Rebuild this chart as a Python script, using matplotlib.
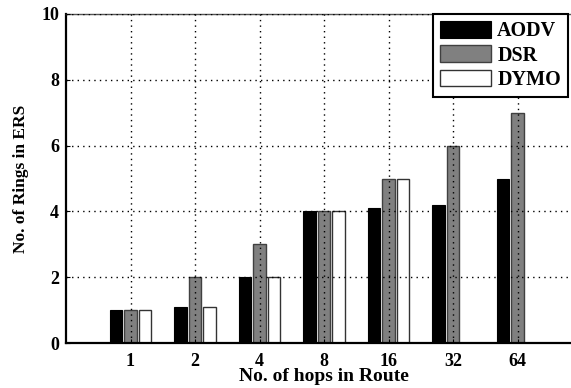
import numpy as np
import matplotlib
matplotlib.use('Agg')
from matplotlib import pyplot as plt

# data
hops = ['1', '2', '4', '8', '16', '32', '64']
aodv = [1, 1.1, 2, 4, 4.1, 4.2, 5]
dsr = [1, 2, 3, 4, 5, 6, 7]
dymo = [1, 1.1, 2, 4, 5, 0, 0]

plt.rcParams['font.family'] = ['Liberation Serif', 'DejaVu Serif']
plt.rcParams['font.weight'] = 'bold'

fig = plt.figure(figsize=(5.71, 3.88), dpi=100)
ax = fig.add_axes([66/571, 1-343/388, (582-66)/571, (343-14)/388])

x = np.arange(1, len(hops)+1)
w = 0.19
off = 0.225
ax.bar(x-off, aodv, w, color='black', edgecolor='black', linewidth=0.8, label='AODV')
ax.bar(x, dsr, w, color='#808080', edgecolor='#404040', linewidth=1.0, label='DSR')
ax.bar(x+off, dymo, w, color='white', edgecolor='#333333', linewidth=1.0, label='DYMO')

ax.set_xlim(0, 8)
ax.set_ylim(0, 10)
ax.set_xticks(x)
ax.set_xticklabels(hops)
ax.set_yticks(range(0, 11, 2))
ax.tick_params(direction='in', length=3, labelsize=13)
ax.tick_params(axis='x', pad=7)
ax.tick_params(axis='y', pad=5)
for lab in ax.get_xticklabels() + ax.get_yticklabels():
    lab.set_fontweight('bold')

ax.set_axisbelow(False)
ax.grid(True, color='black', linestyle=(0, (1, 3)), linewidth=1.0)

for s in ['left', 'bottom']:
    ax.spines[s].set_linewidth(1.6)
ax.spines['top'].set_linewidth(1.0)
ax.spines['top'].set_color('#555555')

ax.set_xlabel('No. of hops in Route', fontsize=14, fontweight='bold', labelpad=-1)
ax.set_ylabel('No. of Rings in ERS', fontsize=12.5, fontweight='bold', labelpad=9)

leg = ax.legend(loc='upper right', bbox_to_anchor=(568/571, 1-14/388),
                bbox_transform=fig.transFigure, borderaxespad=0, fontsize=14.5,
                handlelength=2.55, handleheight=0.9, labelspacing=0.2,
                borderpad=0.35, handletextpad=0.3, fancybox=False, framealpha=1)
leg.get_frame().set_edgecolor('black')
leg.get_frame().set_linewidth(1.5)
for t in leg.get_texts():
    t.set_fontweight('bold')

plt.savefig('out.png', dpi=100)
